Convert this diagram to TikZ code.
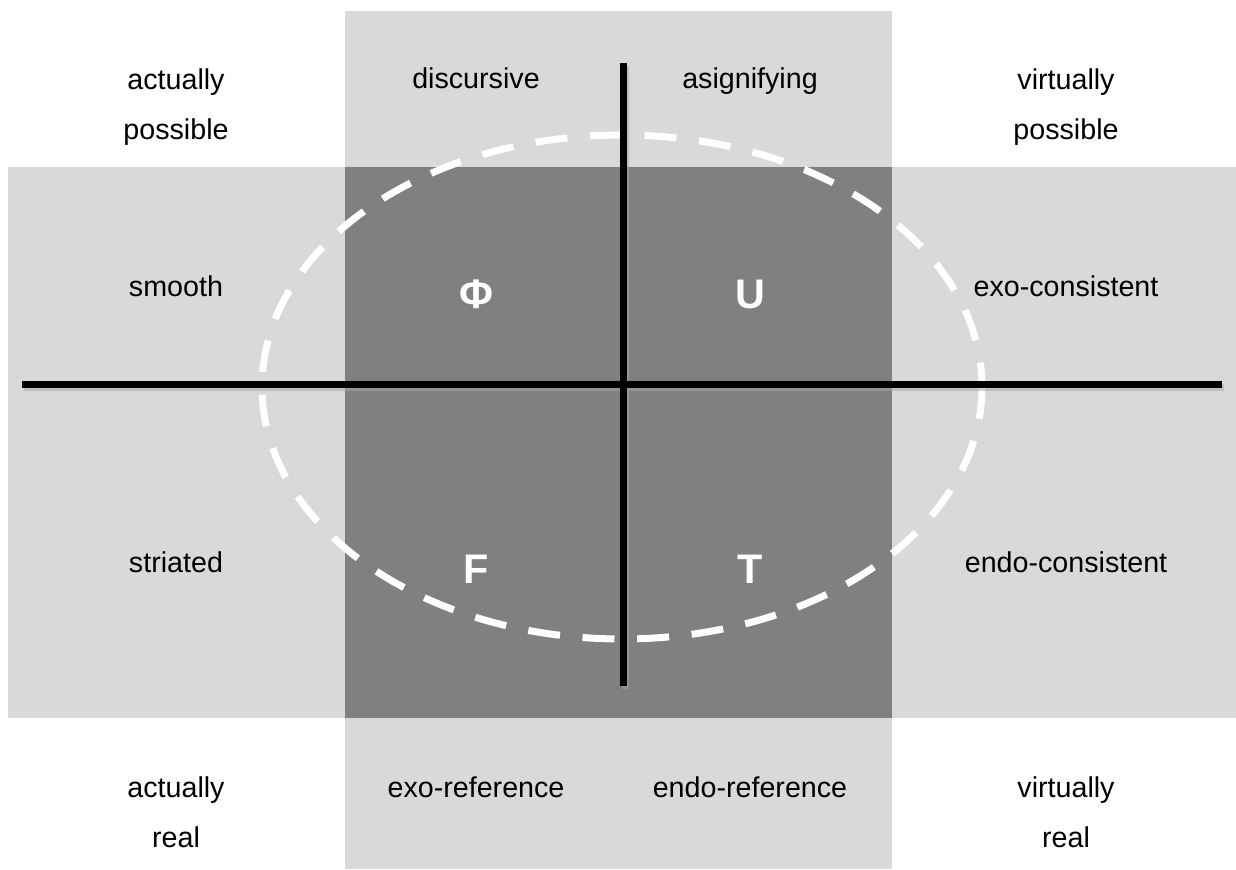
\documentclass[tikz,border=0pt]{standalone}
\usepackage{fontspec}
\setmainfont{Liberation Sans}
\definecolor{lightband}{gray}{0.85}
\definecolor{darkband}{gray}{0.5}
\begin{document}
\begin{tikzpicture}[x=0.75pt,y=-0.75pt,
    word/.style={font=\fontsize{21.5}{37.5}\selectfont, align=center, anchor=base},
    sign/.style={font=\fontsize{31}{36}\selectfont\bfseries, text=white, anchor=base},
    axis/.style={line width=5.25pt},
    shade/.style={line width=5.25pt, black!35, opacity=0.5}]
      \useasboundingbox (0,0) rectangle (1236,869);
      \fill[lightband] (345,11) rectangle (892,869);
      \fill[lightband] (8,167) rectangle (1236,718);
      \fill[darkband] (345,167) rectangle (892,718);

      \draw[white, line width=5.25pt, dash pattern=on 24pt off 17pt] (622,387) ellipse [x radius=360, y radius=252];

      \coordinate (west) at (22,384);
      \coordinate (east) at (1222,384);
      \coordinate (north) at (623,63);
      \coordinate (south) at (623,686);
      \draw[shade] ([shift={(2,3)}]west) -- ([shift={(2,3)}]east);
      \draw[shade] ([shift={(2,3)}]north) -- ([shift={(2,3)}]south);
      \draw[axis] (west) -- (east);
      \draw[axis] (north) -- (south);

      \node[word] (ap) at (176,139) {actually\\possible};
      \node[word] (disc) at (476,88) {discursive};
      \node[word] (asig) at (750,88) {asignifying};
      \node[word] (vp) at (1066,139) {virtually\\possible};
      \node[word] (smooth) at (176,296) {smooth};
      \node[word] (exoc) at (1066,296) {exo-consistent};
      \node[word] (striated) at (176,572) {striated};
      \node[word] (endoc) at (1066,572) {endo-consistent};
      \node[word] (ar) at (176,847) {actually\\real};
      \node[word] (exor) at (476,797) {exo-reference};
      \node[word] (endor) at (750,797) {endo-reference};
      \node[word] (vr) at (1066,847) {virtually\\real};

      \foreach \name/\x/\y/\sym in {phi/476/308/Φ, u/750/308/U, f/476/583/F, t/750/583/T}
        \node[sign] (\name) at (\x,\y) {\sym};
\end{tikzpicture}
\end{document}
